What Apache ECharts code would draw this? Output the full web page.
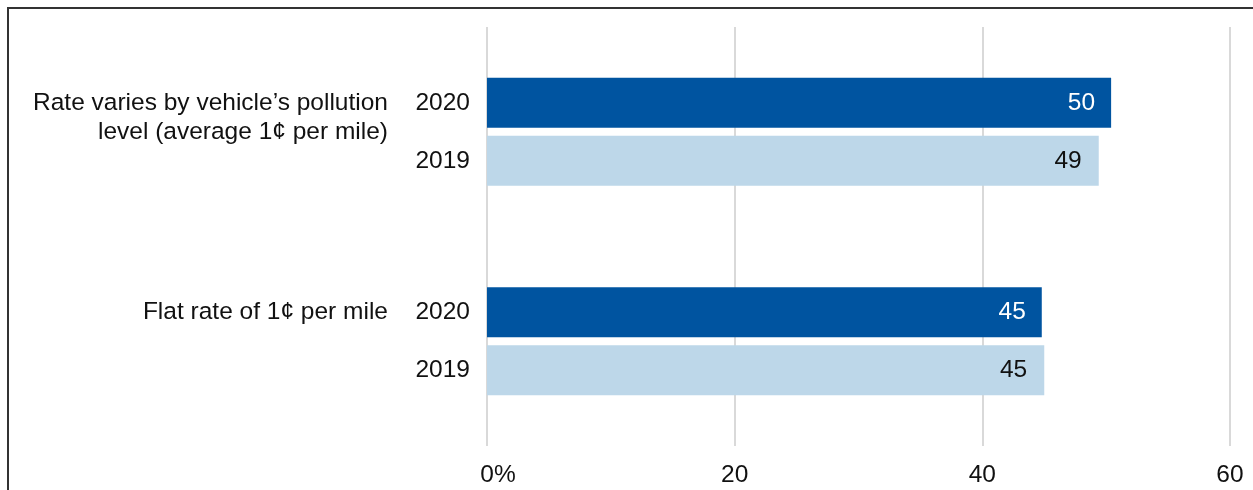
<!DOCTYPE html>
<html>
<head>
<meta charset="utf-8">
<script src="https://cdn.jsdelivr.net/npm/echarts@6/dist/echarts.min.js"></script>
<style>
  html, body { margin: 0; padding: 0; background: #ffffff; }
  #chart { width: 1253px; height: 490px; }
</style>
</head>
<body>
<div id="chart"></div>
<script>
// Pricing options (line breaks mark where each name wraps)
const categories = [
  "Rate varies by vehicle’s pollution\nlevel (average 1¢ per mile)",
  "Flat rate of 1¢ per mile"
];
const years = ["2020", "2019"];
// Share of respondents, percent
const values2020 = [50.4, 44.8];
const values2019 = [49.4, 45.0];
const xTicks = [0, 20, 40, 60];

const FONT = "'Liberation Sans', Arial, Helvetica, sans-serif";
const TEXT = "#111111";
const FS = 24.5;

const chart = echarts.init(document.getElementById('chart'), null, { renderer: 'canvas' });

// Category label: option name on the left, the two survey years stacked on the right
function categoryLabel(value) {
  const lines = value.split('\n');
  const rows = [];
  for (let i = 0; i < 3; i++) {
    const name = lines[i] || ' ';
    const yr = i === 0 ? years[0] : (i === 2 ? years[1] : ' ');
    rows.push('{n|' + name + '}{y|' + yr + '}');
  }
  return rows.join('\n');
}

const labelFont = { fontFamily: FONT, fontSize: FS, lineHeight: 29, color: TEXT };

chart.setOption({
  animation: false,
  backgroundColor: '#ffffff',
  textStyle: { fontFamily: FONT },
  grid: { left: 487, right: 23, top: 27, bottom: 44, containLabel: false, outerBoundsMode: 'none' },
  xAxis: {
    type: 'value',
    min: xTicks[0],
    max: xTicks[xTicks.length - 1],
    interval: xTicks[1] - xTicks[0],
    axisLine: { show: false },
    axisTick: { show: false },
    splitLine: { show: true, lineStyle: { color: '#d9d9d9', width: 2 } },
    axisLabel: {
      margin: 17,
      fontFamily: FONT,
      fontSize: FS,
      color: TEXT,
      formatter: v => v === 0 ? '{z|0%}' : String(v),
      rich: {
        z: { fontFamily: FONT, fontSize: FS, color: TEXT, padding: [0, 0, 0, 22] }
      }
    }
  },
  yAxis: {
    type: 'category',
    inverse: true,
    data: categories,
    axisLine: { show: false },
    axisTick: { show: false },
    splitLine: { show: false },
    axisLabel: {
      margin: 17,
      align: 'right',
      verticalAlign: 'middle',
      formatter: categoryLabel,
      rich: {
        n: Object.assign({ width: 370, align: 'right' }, labelFont),
        y: Object.assign({ width: 82, align: 'right' }, labelFont)
      }
    }
  },
  graphic: [{
    type: 'polyline',
    silent: true,
    shape: { points: [[8, 490], [8, 8], [1253, 8]] },
    style: { stroke: '#333333', lineWidth: 2, fill: null }
  }],
  series: [
    {
      name: years[0],
      type: 'bar',
      data: values2020,
      barWidth: 50,
      barGap: '16%',
      itemStyle: { color: '#0054a0' },
      label: {
        show: true,
        position: 'insideRight',
        distance: 16,
        color: '#ffffff',
        fontFamily: FONT,
        fontSize: FS,
        formatter: p => String(Math.round(p.value))
      }
    },
    {
      name: years[1],
      type: 'bar',
      data: values2019,
      barWidth: 50,
      barGap: '16%',
      itemStyle: { color: '#bdd7e9' },
      label: {
        show: true,
        position: 'insideRight',
        distance: 17,
        color: TEXT,
        fontFamily: FONT,
        fontSize: FS,
        formatter: p => String(Math.round(p.value))
      }
    }
  ]
});
</script>
</body>
</html>
